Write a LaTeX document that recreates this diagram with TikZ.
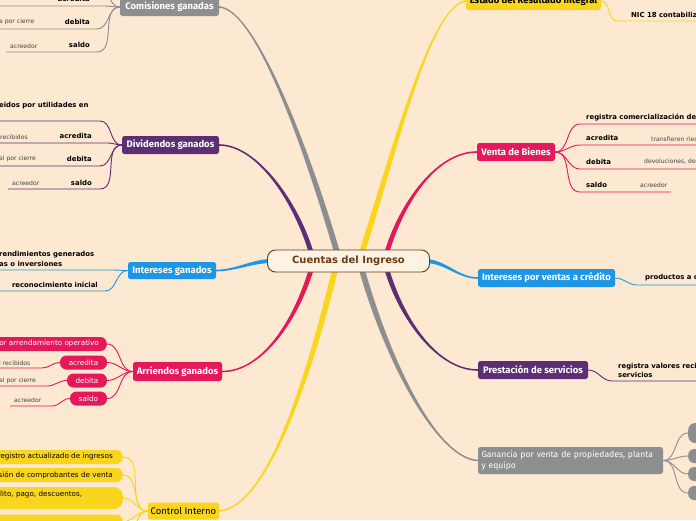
\documentclass[tikz,border=0pt]{standalone}
\usepackage{fontspec}
\setmainfont{DejaVu Sans}
\newfontfamily\hdrfont{Fira Sans}
\usetikzlibrary{calc}
\definecolor{bgc}{HTML}{FDE8D1}
\definecolor{gry}{HTML}{8D8E90}
\definecolor{pur}{HTML}{5D2E74}
\definecolor{blu}{HTML}{1E96E6}
\definecolor{rosa}{HTML}{E3195C}
\definecolor{yel}{HTML}{F9D61D}
\definecolor{brn}{HTML}{6A3A12}
\definecolor{ctrfill}{HTML}{FEF2E4}
\definecolor{smalltxt}{HTML}{444444}
\pgfdeclarelayer{bg}
\pgfsetlayers{bg,main}
% tapered main branch: color, start, end, ctrl offset at start, ctrl offset at end, end offset (signed), half width at start
\newcommand\taperv[7]{%
  \pgfmathsetmacro\tpa{#6}\pgfmathsetmacro\tpb{-(#6)}%
  \fill[#1] ($(#2)+(-#7,0)$) .. controls ($(#2)+(#4)+(-#7,0)$) and ($(#3)+(#5)+(0,\tpa)$) .. ($(#3)+(0,\tpa)$)
    -- ($(#3)+(0,\tpb)$) .. controls ($(#3)+(#5)+(0,\tpb)$) and ($(#2)+(#4)+(#7,0)$) .. ($(#2)+(#7,0)$) -- cycle;}
\newcommand\taperh[6]{%
  \fill[#1] ($(#2)+(0,-#6)$) .. controls ($(#2)+(#4)+(0,-#6)$) and ($(#3)+(#5)+(0,-0.8)$) .. ($(#3)+(0,-0.8)$)
    -- ($(#3)+(0,0.8)$) .. controls ($(#3)+(#5)+(0,0.8)$) and ($(#2)+(#4)+(0,#6)$) .. ($(#2)+(0,#6)$) -- cycle;}
\begin{document}
\begin{tikzpicture}[x=1pt,y=-1pt,
  hdr/.style={rounded corners=2.5pt, text=white, font=\hdrfont\bfseries\fontsize{9.5}{11}\selectfont, inner sep=0pt, minimum height=18pt},
  lbl/.style={font=\bfseries\fontsize{6.9}{8}\selectfont, text=black, inner sep=0pt},
  sml/.style={font=\fontsize{6.1}{7}\selectfont, text=smalltxt, inner sep=0pt},
  pill/.style={rounded corners=6.5pt, font=\fontsize{7.2}{8}\selectfont, inner ysep=0pt, inner xsep=8pt, minimum height=14pt},
  conn/.style={line width=0.9pt}]
\useasboundingbox (0,0) rectangle (696,520);

% ---------- central and main nodes ----------
\node[draw=brn, fill=ctrfill, line width=0.9pt, rounded corners=8pt, minimum width=162pt, minimum height=22pt, inner sep=0pt, font=\bfseries\fontsize{10}{12}\selectfont, text=brn] (ctr) at (348.5,261) {Cuentas del Ingreso};

\node[hdr, fill=gry, minimum width=99pt] (com) at (169.5,7) {Comisiones ganadas};
\node[hdr, fill=pur, minimum width=97pt] (div) at (170.5,145) {Dividendos ganados};
\node[hdr, fill=blu, minimum width=88pt, minimum height=17pt] (intg) at (172,270.5) {Intereses ganados};
\node[hdr, fill=rosa, minimum width=89pt, minimum height=19pt] (arr) at (177.5,371.5) {Arriendos ganados};
\node[hdr, fill=yel, text=black, font=\hdrfont\fontsize{9.5}{11}\selectfont, minimum width=71pt, minimum height=17pt] (ci) at (183.5,511) {Control Interno};
\node[hdr, fill=yel, text=black, minimum width=135pt] (est) at (533.5,1) {Estado del Resultado integral};
\node[hdr, fill=rosa, minimum width=78pt] (vb) at (516,152) {Venta de Bienes};
\node[hdr, fill=blu, minimum width=137pt] (ivc) at (546.5,278) {Intereses por ventas a crédito};
\node[hdr, fill=pur, minimum width=110pt] (ps) at (533,370) {Prestación de servicios};
\node[hdr, fill=gry, font=\hdrfont\fontsize{8.6}{10.5}\selectfont, minimum width=185pt, minimum height=27pt, align=left, text width=178pt] (gan) at (570.5,460.5) {Ganancia por venta de propiedades, planta\\y equipo};

% ---------- Comisiones ganadas children ----------
\node[lbl, anchor=east] (ca) at (90,-1) {acredita};
\node[lbl, anchor=east] (cb) at (90,22) {debita};
\node[sml, anchor=west] (cbs) at (-1,22) {a por cierre};
\node[lbl, anchor=east] (cc) at (90,45) {saldo};
\node[sml, anchor=west] (ccs) at (10,46) {acreedor};
\coordinate (cx1) at (0,-17); \coordinate (cx2) at (97,-17);
\coordinate (ca1) at (0,6);   \coordinate (ca2) at (104,6);
\coordinate (cb1) at (0,29);  \coordinate (cb2) at (97,29);
\coordinate (cc1) at (6,52);  \coordinate (cc2) at (97,52);

% ---------- Dividendos ganados children ----------
\node[lbl, anchor=west] (da) at (-1,106) {eidos por utilidades en};
\node[lbl, anchor=east] (db) at (92,135.5) {acredita};
\node[sml, anchor=west] (dbs) at (0,137) {recibidos};
\node[lbl, anchor=east] (dc) at (92,159) {debita};
\node[sml, anchor=west] (dcs) at (-1,159) {al por cierre};
\node[lbl, anchor=east] (dd) at (92,182.5) {saldo};
\node[sml, anchor=west] (dds) at (12,183) {acreedor};
\coordinate (da1) at (0,121);  \coordinate (da2) at (100,121);
\coordinate (db1) at (0,143);  \coordinate (db2) at (108,143);
\coordinate (dc1) at (0,166);  \coordinate (dc2) at (100,166);
\coordinate (dd1) at (8,189);  \coordinate (dd2) at (100,189);

% ---------- Intereses ganados children ----------
\node[lbl, anchor=west, align=left, font=\bfseries\fontsize{6.9}{9.5}\selectfont] (ia) at (-1,258.8) {rendimientos generados\\as o inversiones};
\node[lbl, anchor=east] (ib) at (98,284.5) {reconocimiento inicial};
\coordinate (ia1) at (0,270);  \coordinate (ia2) at (112,270);
\coordinate (ib1) at (0,291);  \coordinate (ib2) at (105,291);

% ---------- Arriendos ganados children ----------
\node[pill, fill=rosa, text=white, anchor=east] (pa) at (107,344) {por arrendamiento operativo};
\node[pill, fill=rosa, text=white, minimum width=47pt, inner xsep=0pt] (pb) at (83.5,362.5) {acredita};
\node[pill, fill=rosa, text=white, minimum width=40pt, inner xsep=0pt] (pc) at (87,380.5) {debita};
\node[pill, fill=rosa, text=white, minimum width=37pt, inner xsep=0pt] (pd) at (88.5,398.5) {saldo};
\node[sml, anchor=west] (pbs) at (-1,363) {l recibidos};
\node[sml, anchor=west] (pcs) at (-1,381) {al por cierre};
\node[sml, anchor=west] (pds) at (14,400) {acreedor};
\coordinate (pb1) at (0,368);  \coordinate (pb2) at (42,368);
\coordinate (pc1) at (0,386);  \coordinate (pc2) at (47,386);
\coordinate (pd1) at (10,406); \coordinate (pd2) at (52,406);

% ---------- Control Interno children ----------
\node[pill, fill=yel, text=black, anchor=east, inner xsep=10pt] (ka) at (123,457) {registro actualizado de ingresos};
\node[pill, fill=yel, text=black, anchor=east, inner xsep=10pt] (kb) at (123,475) {isión de comprobantes de venta};
\node[pill, fill=yel, anchor=east, minimum width=140pt, minimum height=22pt, rounded corners=9pt] (kc) at (123,498) {};
\node[anchor=west, inner sep=0pt, font=\fontsize{7.2}{8}\selectfont] (kct) at (0,495) {lito, pago, descuentos,};
\node[pill, fill=yel, anchor=east, minimum width=140pt] (kd) at (123,521.5) {};
\coordinate (ke) at (123,540);
\coordinate (kf) at (123,558);

% ---------- right side children ----------
\node[lbl, anchor=west] (ea) at (631,15) {NIC 18 contabiliz};
\coordinate (ea1) at (617,21); \coordinate (ea2) at (700,21);

\node[lbl, anchor=west] (va) at (586,117) {registra comercialización de};
\node[lbl, anchor=west] (vbl) at (586,138) {acredita};
\node[sml, anchor=west] (vbs) at (651,139) {transfieren ries};
\node[lbl, anchor=west] (vc) at (586,161.5) {debita};
\node[sml, anchor=west] (vcs) at (644,162) {devoluciones, des};
\node[lbl, anchor=west] (vd) at (586,185) {saldo};
\node[sml, anchor=west] (vds) at (640,185) {acreedor};
\coordinate (va1) at (580,124); \coordinate (va2) at (700,124);
\coordinate (vb1) at (580,145); \coordinate (vb2) at (700,145);
\coordinate (vc1) at (580,169); \coordinate (vc2) at (700,169);
\coordinate (vd1) at (580,192); \coordinate (vd2) at (671,192);

\node[lbl, anchor=west] (ra) at (645,278) {productos a c};
\coordinate (ra1) at (637,285); \coordinate (ra2) at (700,285);

\node[lbl, anchor=west, align=left, font=\bfseries\fontsize{6.9}{9}\selectfont] (sa) at (618,370.5) {registra valores reci\\servicios};
\coordinate (sa1) at (612,381); \coordinate (sa2) at (700,381);

\node[fill=gry, rounded corners=7pt, minimum width=26pt, minimum height=20pt, inner sep=0pt, anchor=west] (g1) at (688,433) {};
\node[fill=gry, rounded corners=6pt, minimum width=26pt, minimum height=14pt, inner sep=0pt, anchor=west] (g2) at (688,456) {};
\node[fill=gry, rounded corners=6pt, minimum width=26pt, minimum height=14pt, inner sep=0pt, anchor=west] (g3) at (688,474) {};
\node[fill=gry, rounded corners=6pt, minimum width=26pt, minimum height=14pt, inner sep=0pt, anchor=west] (g4) at (688,493) {};

% ---------- main branch start points on the central node ----------
\coordinate (sG1) at (337,252);
\coordinate (sP1) at (311,252);
\coordinate (sR1) at (311,270);
\coordinate (sY1) at (335,270);
\coordinate (sY2) at (362,252);
\coordinate (sR2) at (387,252);
\coordinate (sP2) at (387,270);
\coordinate (sG2) at (362,270);
\coordinate (sB1) at (272,261);
\coordinate (sB2) at (425,261);

\begin{pgfonlayer}{bg}
\fill[bgc] (0,0) rectangle (696,520);
% thin connectors
\draw[conn, gry] (cx1) -- (cx2) to[out=0,in=180] (com.west);
\draw[conn, gry] (ca1) -- (ca2) to[out=0,in=180] (com.west);
\draw[conn, gry] (cb1) -- (cb2) to[out=0,in=180] (com.west);
\draw[conn, gry] (cc1) -- (cc2) to[out=0,in=180] (com.west);
\draw[conn, pur] (da1) -- (da2) to[out=0,in=180] (div.west);
\draw[conn, pur] (db1) -- (db2) to[out=0,in=180] (div.west);
\draw[conn, pur] (dc1) -- (dc2) to[out=0,in=180] (div.west);
\draw[conn, pur] (dd1) -- (dd2) to[out=0,in=180] (div.west);
\draw[conn, blu] (ia1) -- (ia2) to[out=0,in=180] (intg.west);
\draw[conn, blu] (ib1) -- (ib2) to[out=0,in=180] (intg.west);
\foreach \p in {pa,pb,pc,pd} \draw[conn, rosa] (\p.east) to[out=0,in=180] (arr.west);
\draw[conn, rosa] (pb.west) to[out=180,in=0] (pb2) -- (pb1);
\draw[conn, rosa] (pc.west) to[out=180,in=0] (pc2) -- (pc1);
\draw[conn, rosa] (pd.west) to[out=180,in=0] (pd2) -- (pd1);
\foreach \p in {ka,kb,kc,kd} \draw[conn, yel] (\p.east) to[out=0,in=180] (ci.west);
\draw[conn, yel] (ke) to[out=0,in=180] (ci.west);
\draw[conn, yel] (kf) to[out=0,in=180] (ci.west);
\draw[conn, yel] (est.east) to[out=0,in=180] (ea1) -- (ea2);
\draw[conn, rosa] (vb.east) to[out=0,in=180] (va1) -- (va2);
\draw[conn, rosa] (vb.east) to[out=0,in=180] (vb1) -- (vb2);
\draw[conn, rosa] (vb.east) to[out=0,in=180] (vc1) -- (vc2);
\draw[conn, rosa] (vb.east) to[out=0,in=180] (vd1) -- (vd2);
\draw[conn, blu] (ivc.east) to[out=0,in=180] (ra1) -- (ra2);
\draw[conn, pur] (ps.east) to[out=0,in=180] (sa1) -- (sa2);
\foreach \g in {g1,g2,g3,g4} \draw[conn, gry] (gan.east) to[out=0,in=180] (\g.west);
% tapered main branches
\taperv{gry}{sG1}{com.east}{-27,-92}{38,2}{0.8}{3}
\taperv{pur}{sP1}{div.east}{-15,-50}{38,0}{0.8}{2.5}
\taperv{rosa}{sR1}{arr.east}{-15,50}{40,0}{-0.8}{2.5}
\taperv{yel}{sY1}{ci.east}{-27,110}{48,-4}{-0.8}{3}
\taperv{yel}{sY2}{est.west}{30,-92}{-36,4}{-0.8}{3}
\taperv{rosa}{sR2}{vb.west}{15,-50}{-40,0}{-0.8}{2.5}
\taperv{pur}{sP2}{ps.west}{15,50}{-40,0}{0.8}{2.5}
\taperv{gry}{sG2}{gan.west}{27,95}{-40,-2}{0.8}{3}
\taperh{blu}{sB1}{intg.east}{-20,0}{20,0}{2}
\taperh{blu}{sB2}{ivc.west}{20,0}{-20,0}{2}
\end{pgfonlayer}
\end{tikzpicture}
\end{document}
